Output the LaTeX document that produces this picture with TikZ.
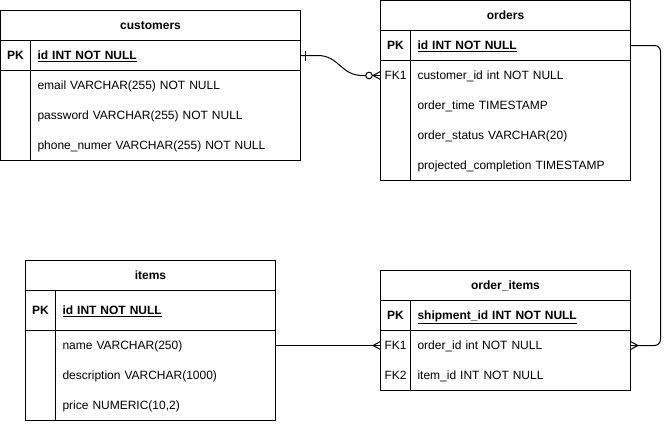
\documentclass[tikz,border=0pt]{standalone}
\usepackage{fontspec}
\setmainfont{Liberation Sans}
\begin{document}
\begin{tikzpicture}[x=1pt,y=-1pt,line width=1pt,
  every node/.style={font=\fontsize{12}{14}\selectfont, inner sep=0pt, outer sep=0pt, text height=8.6pt, text depth=0pt},
  cell/.style 2 args={draw, minimum width=#1, minimum height=#2},
  hdr/.style={draw, minimum width=#1, minimum height=30, font=\fontsize{12}{14}\selectfont\bfseries},
  keyc/.style={minimum width=30, minimum height=30},
  pkkey/.style={draw, minimum width=30, minimum height=#1, font=\fontsize{12}{14}\selectfont\bfseries},
  fld/.style={anchor=west, minimum height=30, inner xsep=7pt, text width=#1, align=left},
  pkfld/.style 2 args={draw, anchor=west, minimum height=#2, inner xsep=7pt, text width=#1, align=left, font=\fontsize{12}{14}\selectfont\bfseries},
]
\useasboundingbox (0,0) rectangle (669,431);

% customers
\node[hdr=300] (cust) at (150.5,25.5) {customers};
\node[pkkey=30] (cust-pk) at (15.5,55.5) {PK};
\node[pkfld={256}{30}] (cust-id) at (30.5,55.5) {\underline{id INT NOT NULL}};
\node[cell={30}{90}] (cust-kb) at (15.5,115.5) {};
\node[cell={270}{90}] (cust-b) at (165.5,115.5) {};
\node[fld=256] (cust-f1) at (30.5,85.5) {email VARCHAR(255) NOT NULL};
\node[fld=256] (cust-f2) at (30.5,115.5) {password VARCHAR(255) NOT NULL};
\node[fld=256] (cust-f3) at (30.5,145.5) {phone\_numer VARCHAR(255) NOT NULL};

% orders
\node[hdr=250] (ord) at (505.5,15.5) {orders};
\node[pkkey=30] (ord-pk) at (395.5,45.5) {PK};
\node[pkfld={206}{30}] (ord-id) at (410.5,45.5) {\underline{id INT NOT NULL}};
\node[cell={30}{120}] (ord-kb) at (395.5,120.5) {};
\node[cell={220}{120}] (ord-b) at (520.5,120.5) {};
\node[keyc] (ord-fk1) at (395.5,75.5) {FK1};
\node[fld=206] (ord-f1) at (410.5,75.5) {customer\_id int NOT NULL};
\node[fld=206] (ord-f2) at (410.5,105.5) {order\_time TIMESTAMP};
\node[fld=206] (ord-f3) at (410.5,135.5) {order\_status VARCHAR(20)};
\node[fld=206] (ord-f4) at (410.5,165.5) {projected\_completion TIMESTAMP};

% items
\node[hdr=250] (item) at (150.5,275.5) {items};
\node[pkkey=40] (it-pk) at (40.5,310.5) {PK};
\node[pkfld={206}{40}] (it-id) at (55.5,310.5) {\underline{id INT NOT NULL}};
\node[cell={30}{90}] (it-kb) at (40.5,375.5) {};
\node[cell={220}{90}] (it-b) at (165.5,375.5) {};
\node[fld=206] (it-f1) at (55.5,345.5) {name VARCHAR(250)};
\node[fld=206] (it-f2) at (55.5,375.5) {description VARCHAR(1000)};
\node[fld=206] (it-f3) at (55.5,405.5) {price NUMERIC(10,2)};

% order_items
\node[hdr=250] (oi) at (505.5,285.5) {order\_items};
\node[pkkey=30] (oi-pk) at (395.5,315.5) {PK};
\node[pkfld={206}{30}] (oi-id) at (410.5,315.5) {\underline{shipment\_id INT NOT NULL}};
\node[cell={30}{60}] (oi-kb) at (395.5,360.5) {};
\node[cell={220}{60}] (oi-b) at (520.5,360.5) {};
\node[keyc] (oi-fk1) at (395.5,345.5) {FK1};
\node[keyc] (oi-fk2) at (395.5,375.5) {FK2};
\node[fld=206] (oi-f1) at (410.5,345.5) {order\_id int NOT NULL};
\node[fld=206] (oi-f2) at (410.5,375.5) {item\_id INT NOT NULL};

% customers -> orders (one to zero-or-many)
\draw (cust-id.east) -- ++(17,0) .. controls +(22,0) and +(-22,0) .. ([xshift=-18]ord-fk1.west) -- ([xshift=-14.8]ord-fk1.west);
\draw ([xshift=4.5,yshift=-5]cust-id.east) -- ([xshift=4.5,yshift=5]cust-id.east);
\draw ([xshift=-11.5]ord-fk1.west) circle[radius=3.3];
\draw ([xshift=-8.2]ord-fk1.west) -- (ord-fk1.west);
\draw ([yshift=4]ord-fk1.west) -- ([xshift=-7.5]ord-fk1.west) -- ([yshift=-4]ord-fk1.west);

% orders -> order_items (many)
\coordinate (rt) at (660.5,200);
\draw[rounded corners=6] (ord-id.east) -- (ord-id.east -| rt) -- (oi-f1.east -| rt) -- (oi-f1.east);
\draw ([yshift=4]oi-f1.east) -- ([xshift=7.5]oi-f1.east) -- ([yshift=-4]oi-f1.east);

% items -> order_items (many)
\draw (it-f1.east) -- (oi-fk1.west);
\draw ([yshift=4]oi-fk1.west) -- ([xshift=-7.5]oi-fk1.west) -- ([yshift=-4]oi-fk1.west);
\end{tikzpicture}
\end{document}
